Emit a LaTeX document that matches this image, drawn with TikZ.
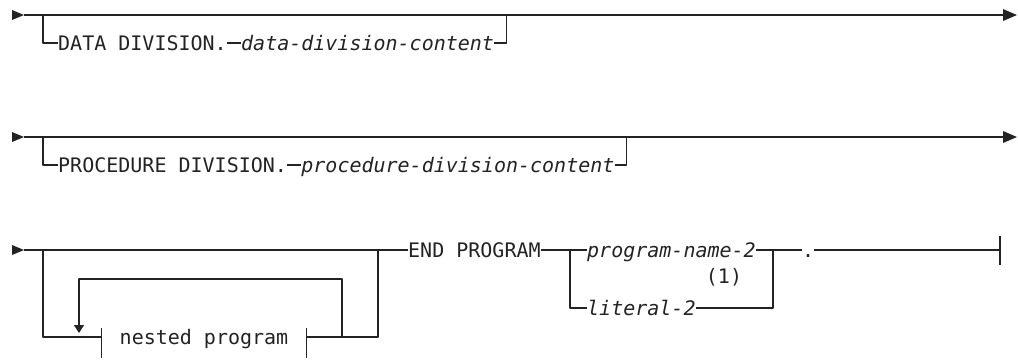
\documentclass[tikz,border=0pt]{standalone}
\usepackage{fontspec}
\setmonofont{DejaVu Sans Mono}
\usetikzlibrary{positioning,arrows.meta}
\definecolor{ink}{RGB}{35,35,35}
\tikzset{
  syn/.style={inner sep=0pt, text height=15pt, text depth=0pt, text=ink,
    font=\fontsize{20}{20}\selectfont\ttfamily},
  var/.style={syn, font=\fontsize{20}{20}\selectfont\ttfamily\itshape},
  rail/.style={draw=ink, line width=1.1pt},
}
\begin{document}
\begin{tikzpicture}[x=1pt, y=-1pt, line join=round]
  \useasboundingbox (0,0) rectangle (1018,360);
  \def\starthead(#1){\fill[ink] (#1) -- ++(-12,-5) -- ++(0,10) -- cycle;}
  \def\endhead(#1){\fill[ink] (#1) -- ++(0,-6) -- ++(14,6) -- ++(-14,6) -- cycle;}
  % data division
  \coordinate (a1) at (24,15);
  \coordinate (b1) at (1003,15);
  \coordinate (j1) at (43,15);
  \node[syn, anchor=west] (dd) at (58,43) {DATA DIVISION.};
  \node[var, right=14pt of dd] (ddc) {data-division-content};
  \coordinate (k1) at ([xshift=12pt]ddc.east |- a1);
  \starthead(a1) \endhead(b1)
  \draw[rail] (a1) -- (b1);
  \draw[rail] (j1) |- (dd.west) (dd.east) -- (ddc.west) (ddc.east) -| (k1);
  % procedure division
  \coordinate (a2) at (24,137);
  \coordinate (b2) at (1003,137);
  \coordinate (j2) at (43,137);
  \node[syn, anchor=west] (pd) at (58,165) {PROCEDURE DIVISION.};
  \node[var, right=14pt of pd] (pdc) {procedure-division-content};
  \coordinate (k2) at ([xshift=12pt]pdc.east |- a2);
  \starthead(a2) \endhead(b2)
  \draw[rail] (a2) -- (b2);
  \draw[rail] (j2) |- (pd.west) (pd.east) -- (pdc.west) (pdc.east) -| (k2);
  % nested programs, end program
  \coordinate (a3) at (24,250);
  \coordinate (j3) at (43,250);
  \coordinate (k3) at (378,250);
  \coordinate (m3) at (342,337);
  \coordinate (lp) at (79,279);
  \coordinate (lq) at (79,333);
  \node[syn, anchor=center, inner xsep=17.7pt] (np) at (204,337) {nested program};
  \node[syn, anchor=west] (ep) at (408,250) {END PROGRAM};
  \coordinate (c3) at (570,250);
  \node[var, anchor=west] (pn) at (587,250) {program-name-2};
  \node[var, anchor=west] (lt) at (587,308) {literal-2};
  \node[syn, text height=, text depth=] (n1) at (724,277) {(1)};
  \coordinate (d3) at (773,250);
  \node[syn, anchor=west] (pt) at (802,250) {.};
  \coordinate (e3) at (1000,250);
  \starthead(a3)
  \draw[rail] (a3) -- (ep.west);
  \draw[rail] (j3) |- (np.west) (np.east) -| (k3);
  \draw[rail] ([yshift=9pt]np.west) -- ([yshift=-21pt]np.west)
              ([yshift=9pt]np.east) -- ([yshift=-21pt]np.east);
  \draw[rail, -{Triangle[length=8pt, width=10pt]}] (m3) |- (lp) -- (lq);
  \draw[rail] (ep.east) -- (pn.west) (c3) |- (lt.west);
  \draw[rail] (pn.east) -- (d3) (lt.east) -| (d3) -- (pt.west);
  \draw[rail] (pt.east) -- (e3) ([yshift=14pt]e3) -- ([yshift=-15pt]e3);
\end{tikzpicture}
\end{document}
